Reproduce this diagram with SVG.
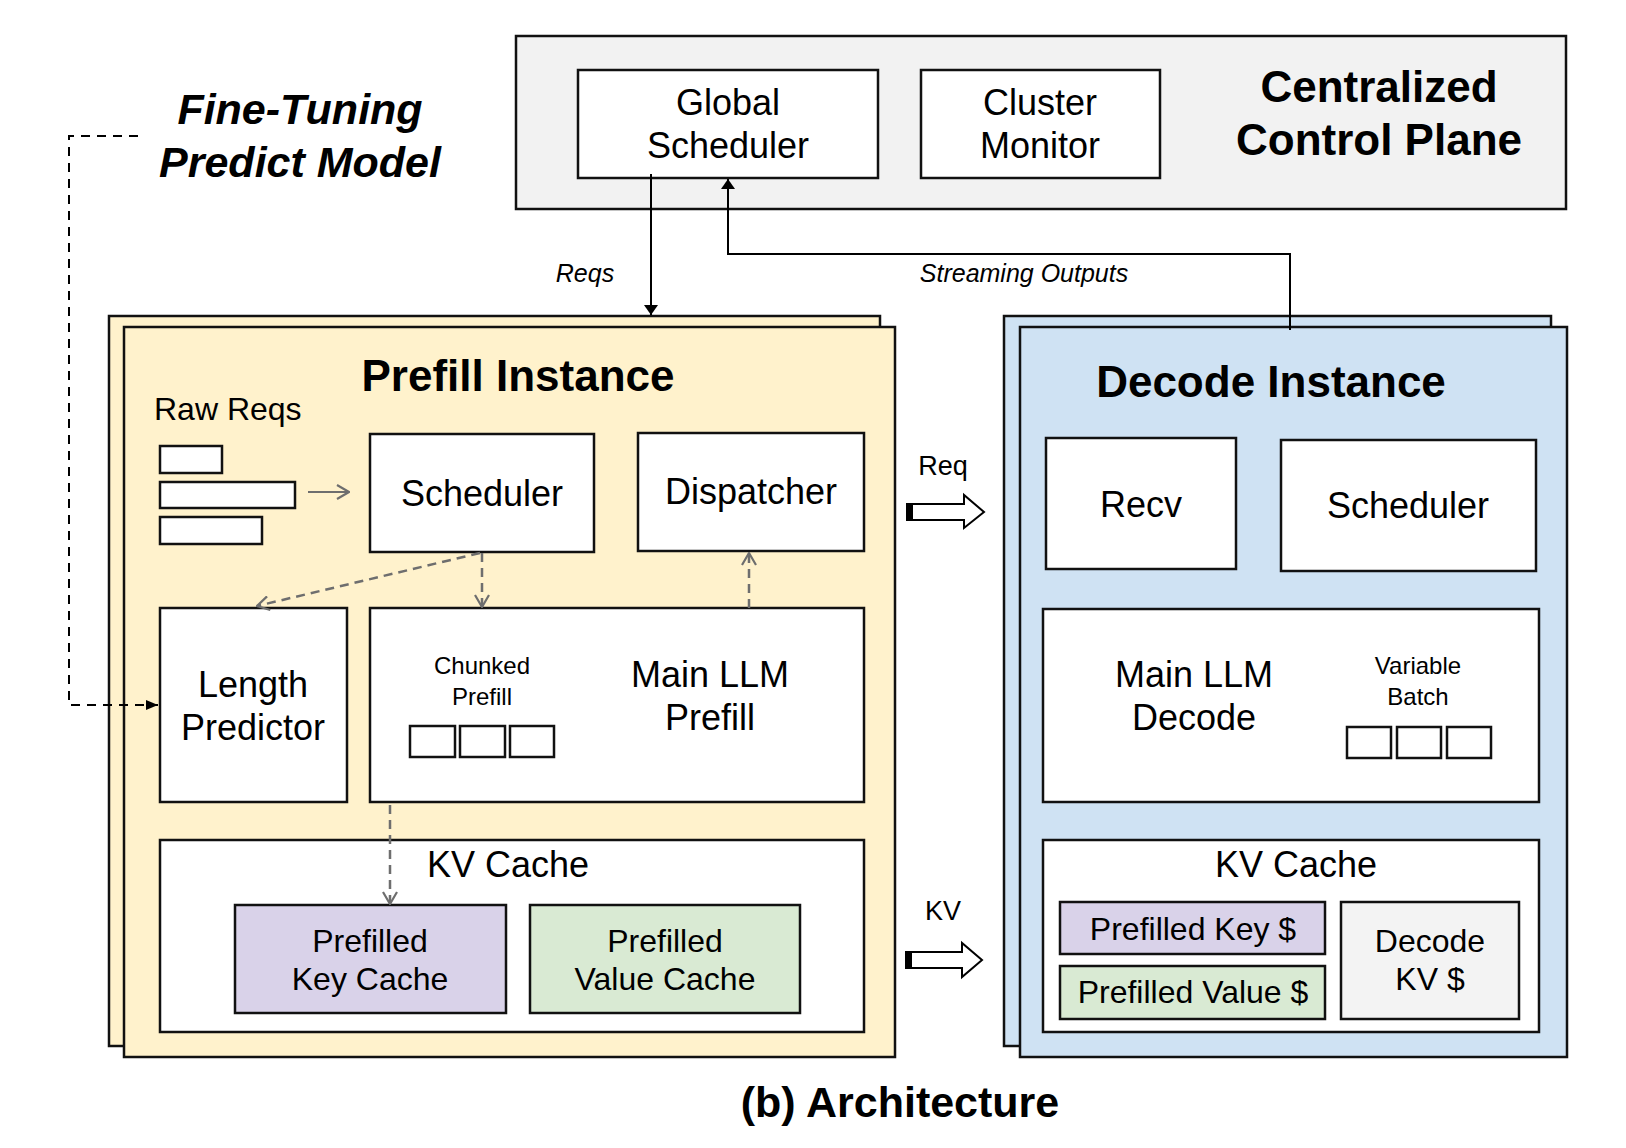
<svg xmlns="http://www.w3.org/2000/svg" width="1626" height="1148" viewBox="0 0 1626 1148">
<defs>
<style>
text{font-family:"Liberation Sans",Arial,Helvetica,sans-serif;fill:#000}
.box{fill:#fff;stroke:#111;stroke-width:2.5}
.lbl{font-size:36px;text-anchor:middle}
.cap{font-size:32px;text-anchor:middle}
.sm{font-size:24px;text-anchor:middle}
.title{font-size:44px;font-weight:bold;text-anchor:middle}
.it{font-size:25px;font-style:italic;text-anchor:middle}
.solid{fill:none;stroke:#000;stroke-width:2}
.gdash{fill:none;stroke:#6e6e6e;stroke-width:2.5;stroke-dasharray:9 6}
.bdash{fill:none;stroke:#000;stroke-width:2;stroke-dasharray:9 7}
.block{fill:#fff;stroke:#000;stroke-width:2}
</style>
<marker id="ah" viewBox="0 0 10 20" refX="10" refY="10" markerWidth="10" markerHeight="20" markerUnits="userSpaceOnUse" orient="auto">
<path d="M0,3 L10,10 L0,17 z" fill="#000"/>
</marker>
<marker id="gah" viewBox="0 0 14 16" refX="13" refY="8" markerWidth="14" markerHeight="16" markerUnits="userSpaceOnUse" orient="auto">
<path d="M1,1 L13,8 L1,15" fill="none" stroke="#6e6e6e" stroke-width="2.2"/>
</marker>
<marker id="bah" viewBox="0 0 12 12" refX="12" refY="6" markerWidth="12" markerHeight="12" markerUnits="userSpaceOnUse" orient="auto">
<path d="M0,1 L12,6 L0,11 z" fill="#000"/>
</marker>
</defs>
<rect width="1626" height="1148" fill="#fff"/>

<g id="control-plane">
<rect x="516" y="36" width="1050" height="173" fill="#f2f2f2" stroke="#111" stroke-width="2.5"/>
<text class="title" x="1379" y="102">Centralized</text>
<text class="title" x="1379" y="155">Control Plane</text>
</g>
<g id="global-scheduler">
<rect class="box" x="578" y="70" width="300" height="108"/>
<text class="lbl" x="728" y="115">Global</text>
<text class="lbl" x="728" y="158">Scheduler</text>
</g>
<g id="cluster-monitor">
<rect class="box" x="921" y="70" width="239" height="108"/>
<text class="lbl" x="1040" y="115">Cluster</text>
<text class="lbl" x="1040" y="158">Monitor</text>
</g>

<g id="fine-tuning">
<text x="300" y="124" font-size="43" font-weight="bold" font-style="italic" text-anchor="middle">Fine-Tuning</text>
<text x="300" y="177" font-size="43" font-weight="bold" font-style="italic" text-anchor="middle">Predict Model</text>
</g>

<g id="prefill-instance">
<rect x="109" y="316" width="771" height="730" fill="#fff2cc" stroke="#111" stroke-width="2.5"/>
<rect x="124" y="327" width="771" height="730" fill="#fff2cc" stroke="#111" stroke-width="2.5"/>
<text class="title" x="518" y="391">Prefill Instance</text>
<text x="154" y="420" font-size="32">Raw Reqs</text>
<rect class="box" x="160" y="446" width="62" height="27" stroke-width="2.2"/>
<rect class="box" x="160" y="482" width="135" height="26" stroke-width="2.2"/>
<rect class="box" x="160" y="517" width="102" height="27" stroke-width="2.2"/>
</g>
<g id="prefill-scheduler">
<rect class="box" x="370" y="434" width="224" height="118"/>
<text class="lbl" x="482" y="506">Scheduler</text>
</g>
<g id="dispatcher">
<rect class="box" x="638" y="433" width="226" height="118"/>
<text class="lbl" x="751" y="504">Dispatcher</text>
</g>
<g id="length-predictor">
<rect class="box" x="160" y="608" width="187" height="194"/>
<text class="lbl" x="253" y="697">Length</text>
<text class="lbl" x="253" y="740">Predictor</text>
</g>
<g id="main-llm-prefill">
<rect class="box" x="370" y="608" width="494" height="194"/>
<text class="sm" x="482" y="674">Chunked</text>
<text class="sm" x="482" y="705">Prefill</text>
<rect class="box" x="410" y="726" width="45" height="31" stroke-width="2.2"/>
<rect class="box" x="460" y="726" width="45" height="31" stroke-width="2.2"/>
<rect class="box" x="510" y="726" width="44" height="31" stroke-width="2.2"/>
<text class="lbl" x="710" y="687">Main LLM</text>
<text class="lbl" x="710" y="730">Prefill</text>
</g>
<g id="prefill-kv-cache">
<rect class="box" x="160" y="840" width="704" height="192"/>
<text class="lbl" x="508" y="877">KV Cache</text>
<rect x="235" y="905" width="271" height="108" fill="#d9d2e9" stroke="#111" stroke-width="2.5"/>
<text class="cap" x="370" y="952">Prefilled</text>
<text class="cap" x="370" y="990">Key Cache</text>
<rect x="530" y="905" width="270" height="108" fill="#d9ead3" stroke="#111" stroke-width="2.5"/>
<text class="cap" x="665" y="952">Prefilled</text>
<text class="cap" x="665" y="990">Value Cache</text>
</g>

<g id="decode-instance">
<rect x="1004" y="316" width="547" height="730" fill="#cfe2f3" stroke="#111" stroke-width="2.5"/>
<rect x="1020" y="327" width="547" height="730" fill="#cfe2f3" stroke="#111" stroke-width="2.5"/>
<text class="title" x="1271" y="397">Decode Instance</text>
</g>
<g id="recv">
<rect class="box" x="1046" y="438" width="190" height="131"/>
<text class="lbl" x="1141" y="517">Recv</text>
</g>
<g id="decode-scheduler">
<rect class="box" x="1281" y="440" width="255" height="131"/>
<text class="lbl" x="1408" y="518">Scheduler</text>
</g>
<g id="main-llm-decode">
<rect class="box" x="1043" y="609" width="496" height="193"/>
<text class="lbl" x="1194" y="687">Main LLM</text>
<text class="lbl" x="1194" y="730">Decode</text>
<text class="sm" x="1418" y="674">Variable</text>
<text class="sm" x="1418" y="705">Batch</text>
<rect class="box" x="1347" y="727" width="44" height="31" stroke-width="2.2"/>
<rect class="box" x="1397" y="727" width="44" height="31" stroke-width="2.2"/>
<rect class="box" x="1447" y="727" width="44" height="31" stroke-width="2.2"/>
</g>
<g id="decode-kv-cache">
<rect class="box" x="1043" y="840" width="496" height="192"/>
<text class="lbl" x="1296" y="877">KV Cache</text>
<rect x="1060" y="902" width="265" height="52" fill="#d9d2e9" stroke="#111" stroke-width="2.5"/>
<text class="cap" x="1193" y="940" font-size="31">Prefilled Key $</text>
<rect x="1060" y="966" width="265" height="53" fill="#d9ead3" stroke="#111" stroke-width="2.5"/>
<text class="cap" x="1193" y="1003" font-size="31">Prefilled Value $</text>
<rect x="1341" y="902" width="178" height="117" fill="#f3f3f3" stroke="#111" stroke-width="2.5"/>
<text class="cap" x="1430" y="952">Decode</text>
<text class="cap" x="1430" y="990">KV $</text>
</g>

<g id="connectors">
<line class="solid" x1="651" y1="174" x2="651" y2="315" marker-end="url(#ah)"/>
<polyline class="solid" points="1290,330 1290,254 728,254 728,179" marker-end="url(#ah)"/>
<text class="it" x="585" y="282">Reqs</text>
<text class="it" x="1024" y="282">Streaming Outputs</text>
<polyline class="bdash" points="138,136 69,136 69,705 158,705" marker-end="url(#bah)"/>
<line x1="308" y1="492" x2="349" y2="492" stroke="#6e6e6e" stroke-width="2.2" marker-end="url(#gah)"/>
<line class="gdash" x1="480" y1="553" x2="257" y2="606" marker-end="url(#gah)"/>
<line class="gdash" x1="482" y1="553" x2="482" y2="607" marker-end="url(#gah)"/>
<line class="gdash" x1="749" y1="608" x2="749" y2="553" marker-end="url(#gah)"/>
<line class="gdash" x1="390" y1="805" x2="390" y2="904" marker-end="url(#gah)"/>
<text x="943" y="475" font-size="27" text-anchor="middle">Req</text>
<path class="block" d="M907,504 H964 V495 L984,512 L964,528 V520 H907 Z"/>
<rect x="906" y="503" width="7" height="18" fill="#000"/>
<text x="943" y="920" font-size="27" text-anchor="middle">KV</text>
<path class="block" d="M906,952 H962 V943 L982,960 L962,977 V968 H906 Z"/>
<rect x="905" y="951" width="7" height="18" fill="#000"/>
</g>

<text id="caption" x="900" y="1117" font-size="43" font-weight="bold" text-anchor="middle">(b) Architecture</text>
</svg>
